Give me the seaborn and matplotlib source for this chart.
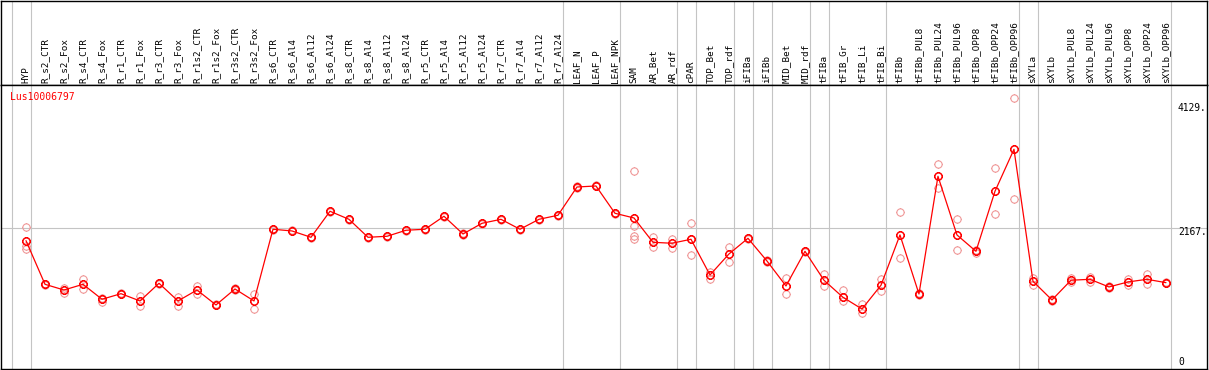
import numpy as np
import pandas as pd
import matplotlib
matplotlib.use("Agg")
import matplotlib.pyplot as plt
from matplotlib.path import Path
import seaborn as sns

categories = [
    "HYP", "R_s2_CTR", "R_s2_Fox", "R_s4_CTR", "R_s4_Fox", "R_r1_CTR", "R_r1_Fox",
    "R_r3_CTR", "R_r3_Fox", "R_r1s2_CTR", "R_r1s2_Fox", "R_r3s2_CTR", "R_r3s2_Fox",
    "R_s6_CTR", "R_s6_Al4", "R_s6_Al12", "R_s6_Al24", "R_s8_CTR", "R_s8_Al4",
    "R_s8_Al12", "R_s8_Al24", "R_r5_CTR", "R_r5_Al4", "R_r5_Al12", "R_r5_Al24",
    "R_r7_CTR", "R_r7_Al4", "R_r7_Al12", "R_r7_Al24", "LEAF_N", "LEAF_P", "LEAF_NPK",
    "SAM", "AR_Bet", "AR_rdf", "cPAR", "TOP_Bet", "TOP_rdf", "iFIBa", "iFIBb",
    "MID_Bet", "MID_rdf", "tFIBa", "tFIB_Gr", "tFIB_Li", "tFIB_Bi", "tFIBb",
    "tFIBb_PUL8", "tFIBb_PUL24", "tFIBb_PUL96", "tFIBb_OPP8", "tFIBb_OPP24",
    "tFIBb_OPP96", "sXYLa", "sXYLb", "sXYLb_PUL8", "sXYLb_PUL24", "sXYLb_PUL96",
    "sXYLb_OPP8", "sXYLb_OPP24", "sXYLb_OPP96",
]

mean_values = [
    1972, 1283, 1193, 1283, 1047, 1135, 1020, 1299, 1020, 1193, 957, 1209, 1020,
    2152, 2125, 2025, 2436, 2309, 2025, 2041, 2136, 2152, 2357, 2077, 2246,
    2309, 2152, 2309, 2373, 2819, 2835, 2404,
    2330, 1946, 1931, 1994, 1430, 1762, 2009, 1651,
    1257, 1804, 1347, 1078, 893, 1268, 2062,
    1130, 2988, 2062, 1804, 2751, 3414,
    1331, 1036, 1347, 1362, 1241, 1320, 1362, 1309,
]

replicate_1 = [
    2183, 1290, 1220, 1367, 1072, 1145, 1099, 1310, 1088, 1252, 965, 1220, 1130,
    2160, 2133, 2033, 2444, 2317, 2033, 2049, 2144, 2160, 2365, 2085, 2254,
    2317, 2160, 2317, 2381, 2827, 2843, 2412,
    3071, 2025, 2003, 2246, 1473, 1872, 2015, 1660,
    1383, 1810, 1451, 1189, 972, 1367, 2420,
    1140, 3178, 2309, 1825, 3114, 4219,
    1383, 1045, 1388, 1394, 1250, 1362, 1441, 1315,
]

replicate_2 = [
    1836, 1276, 1141, 1209, 999, 1125, 946, 1288, 946, 1130, 949, 1198, 898,
    2144, 2117, 2017, 2428, 2301, 2017, 2033, 2128, 2144, 2349, 2069, 2238,
    2301, 2144, 2301, 2365, 2811, 2827, 2396,
    1998, 1877, 1861, 1741, 1367, 1640, 2003, 1642,
    1125, 1798, 1257, 1015, 835, 1182, 1694,
    1120, 2799, 1820, 1773, 2388, 2625,
    1268, 1027, 1320, 1320, 1232, 1277, 1283, 1303,
]

extra_rep_categories = ["HYP", "SAM", "SAM", "cPAR"]
extra_rep_values = [1893, 2208, 2051, 1994]

separator_after = [-1, 0, 28, 31, 34, 35, 37, 38, 39, 41, 42, 45, 52, 53, 60]
ytick_values = [4129, 2167, 0]
ytick_labels = ["4129.", "2167.", "0"]
gridline_values = [2167]
gene_label = "Lus10006797"

# ---------------------------------------------------------------
sns.set_style("white")
plt.rcParams["font.family"] = ["DejaVu Sans Mono", "DejaVu Sans"]

W, H = 1209, 370
fig = plt.figure(figsize=(W / 100, H / 100), dpi=100)

def px_axes(left, top, right, bottom):
    return fig.add_axes([left / W, 1 - bottom / H, (right - left) / W, (bottom - top) / H])

ax_h = px_axes(1, 0.5, 1207, 85)
ax = px_axes(1, 85, 1207, 369)

idx = {c: i for i, c in enumerate(categories)}
x_idx = np.arange(len(categories))
xlim = (-1.316, 62.16)
ylim = (-54, 4429)

# replicate points (long form)
rep_x = list(x_idx) + list(x_idx) + [idx[c] for c in extra_rep_categories]
rep_y = list(replicate_1) + list(replicate_2) + list(extra_rep_values)
rep_df = pd.DataFrame({"x": rep_x, "y": rep_y})

circle = Path.unit_circle()
t = 1.22
ticks = Path([(1, 0), (t, 0), (-1, 0), (-t, 0), (0, 1), (0, t), (0, -1), (0, -t)],
             [Path.MOVETO, Path.LINETO] * 4)
mk = Path.make_compound_path(circle, ticks)

for a in (ax, ax_h):
    a.set_xlim(*xlim)
    for s in a.spines.values():
        s.set_color("black")
        s.set_linewidth(1.0)
        s.set_visible(True)
    a.set_xticks([])
    a.set_yticks([])
    a.set_facecolor("white")
    for s in separator_after:
        a.axvline(s + 0.24, color="#c4c4c4", linewidth=0.8, zorder=0)

ax.set_ylim(*ylim)
ax_h.set_ylim(0, 1)
for g in gridline_values:
    ax.axhline(g, color="#c4c4c4", linewidth=0.8, zorder=0)

sns.lineplot(data=rep_df, x="x", y="y", estimator=None, sort=False, linestyle="none",
             marker=mk, markersize=6.4, markerfacecolor="none", markeredgecolor="#f09a9a",
             markeredgewidth=0.8, ax=ax, zorder=2)
sns.lineplot(x=x_idx, y=mean_values, color="red", linewidth=0.9, marker=mk, markersize=6.4,
             markerfacecolor="none", markeredgecolor="red", markeredgewidth=1.1, ax=ax, zorder=3)
ax.set_xlabel("")
ax.set_ylabel("")
ax.set_xlim(*xlim)
ax.set_ylim(*ylim)

# header labels
for i, c in enumerate(categories):
    ax_h.text(i, 0.027, c, rotation=90, ha="center", va="bottom", fontsize=6.7,
              color="black", transform=ax_h.get_xaxis_transform())

# right value labels
for v, lab in zip(ytick_values, ytick_labels):
    dy = -3.7 if v > 0 else 3.6
    ax.annotate(lab, xy=(60.63, v), xytext=(0, dy), textcoords="offset pixels",
                ha="left", va="center", fontsize=6.9, color="black")

fig.text(10 / W, 1 - 97.3 / H, gene_label, color="red", fontsize=7.0, ha="left", va="center",
         family=["DejaVu Sans Mono"])

fig.savefig("out.png", dpi=100)
